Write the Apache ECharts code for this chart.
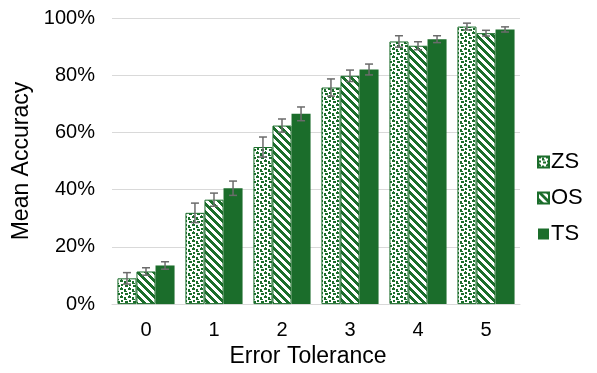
<!DOCTYPE html>
<html>
<head>
<meta charset="utf-8">
<script src="https://cdn.jsdelivr.net/npm/echarts@6/dist/echarts.min.js"></script>
<style>
  html, body { margin: 0; padding: 0; background: #fff; }
  #chart { width: 597px; height: 373px; }
</style>
</head>
<body>
<div id="chart"></div>
<script>
const categories = ['0', '1', '2', '3', '4', '5']
const seriesNames = ['ZS', 'OS', 'TS']
// mean accuracy (%)
const zsValues = [9.0, 31.9, 54.9, 75.7, 91.8, 97.0]
const osValues = [11.4, 36.5, 62.4, 79.8, 90.3, 94.7]
const tsValues = [13.5, 40.5, 66.5, 82.0, 92.6, 96.0]
// error bar half-length (%)
const zsErr = [2.0, 3.4, 3.5, 3.0, 2.0, 1.2]
const osErr = [1.3, 2.3, 2.3, 2.0, 1.4, 1.0]
const tsErr = [1.3, 2.5, 2.4, 1.9, 1.2, 0.9]
const yTicks = [0, 20, 40, 60, 80, 100]

const green = '#1b6d2b'

// 填充图案
function makePattern(kind) {
  const c = document.createElement('canvas')
  c.width = 8
  c.height = 8
  const ctx = c.getContext('2d')
  ctx.fillStyle = '#fff'
  ctx.fillRect(0, 0, 8, 8)
  ctx.fillStyle = green
  if (kind === 'dots') {
    ctx.fillRect(0, 0, 3, 2)
    ctx.fillRect(4, 1, 2, 3)
    ctx.fillRect(1, 4, 2, 2)
    ctx.fillRect(5, 5, 3, 2)
    ctx.fillRect(6, 3, 1, 1)
    ctx.fillRect(1, 7, 1, 1)
  }
  else {
    for (let y = 0; y < 8; y++) {
      for (let x = 0; x < 8; x++) {
        if (((x - y) % 8 + 8) % 8 < 4)
          ctx.fillRect(x, y, 1, 1)
      }
    }
  }
  return { image: c, repeat: 'repeat' }
}

const dataSets = [zsValues, osValues, tsValues]
const errSets = [zsErr, osErr, tsErr]
const fills = [makePattern('dots'), makePattern('stripes'), green]

const barSeries = seriesNames.map((name, i) => ({
  name,
  type: 'bar',
  barWidth: '28%',
  barGap: '0%',
  itemStyle: {
    color: fills[i],
    borderColor: green,
    borderWidth: i < 2 ? 1 : 0,
  },
  data: dataSets[i],
}))

const errData = []
dataSets.forEach((vals, s) => {
  vals.forEach((v, k) => {
    errData.push([k, v - errSets[s][k], v + errSets[s][k], s])
  })
})

const errSeries = {
  type: 'custom',
  silent: true,
  z: 10,
  renderItem(params, api) {
    const band = api.size([1, 0])[0]
    const bw = band * 0.28
    const offset = (api.value(3) - 1) * bw
    const lo = api.coord([api.value(0), api.value(1)])
    const hi = api.coord([api.value(0), api.value(2)])
    const x = lo[0] + offset
    const cap = 4
    const style = { stroke: '#6b6b6b', lineWidth: 1.5 }
    return {
      type: 'group',
      children: [
        { type: 'line', shape: { x1: x, y1: lo[1], x2: x, y2: hi[1] }, style },
        { type: 'line', shape: { x1: x - cap, y1: lo[1], x2: x + cap, y2: lo[1] }, style },
        { type: 'line', shape: { x1: x - cap, y1: hi[1], x2: x + cap, y2: hi[1] }, style },
      ],
    }
  },
  data: errData,
}

const chartOptions = {
  animation: false,
  textStyle: { fontFamily: 'Liberation Sans, Arial, sans-serif' },
  grid: { left: 112, right: 77, top: 18, bottom: 68 },
  legend: {
    data: seriesNames,
    orient: 'vertical',
    left: 532,
    top: 146,
    itemWidth: 11,
    itemHeight: 11,
    itemGap: 14,
    icon: 'rect',
    textStyle: { fontSize: 22, color: '#000', padding: [0, 0, 0, -3] },
  },
  xAxis: {
    type: 'category',
    data: categories,
    name: 'Error Tolerance',
    nameLocation: 'middle',
    nameGap: 39,
    nameTextStyle: { fontSize: 23, color: '#000', padding: [0, 16, 0, 0] },
    axisLine: { lineStyle: { color: '#d9d9d9', width: 1 } },
    axisTick: { show: false },
    axisLabel: { fontSize: 20, color: '#000', margin: 16 },
  },
  yAxis: {
    type: 'value',
    min: yTicks[0],
    max: yTicks[yTicks.length - 1],
    interval: 20,
    name: 'Mean Accuracy',
    nameLocation: 'middle',
    nameGap: 74,
    nameTextStyle: { fontSize: 23, color: '#000' },
    axisLine: { show: false },
    axisTick: { show: false },
    splitLine: { lineStyle: { color: '#d9d9d9', width: 1 } },
    axisLabel: { fontSize: 20, color: '#000', margin: 17, formatter: '{value}%' },
  },
  series: [...barSeries, errSeries],
}

const chartInstance = echarts.init(document.getElementById('chart'))
chartInstance.setOption(chartOptions)
</script>
</body>
</html>
